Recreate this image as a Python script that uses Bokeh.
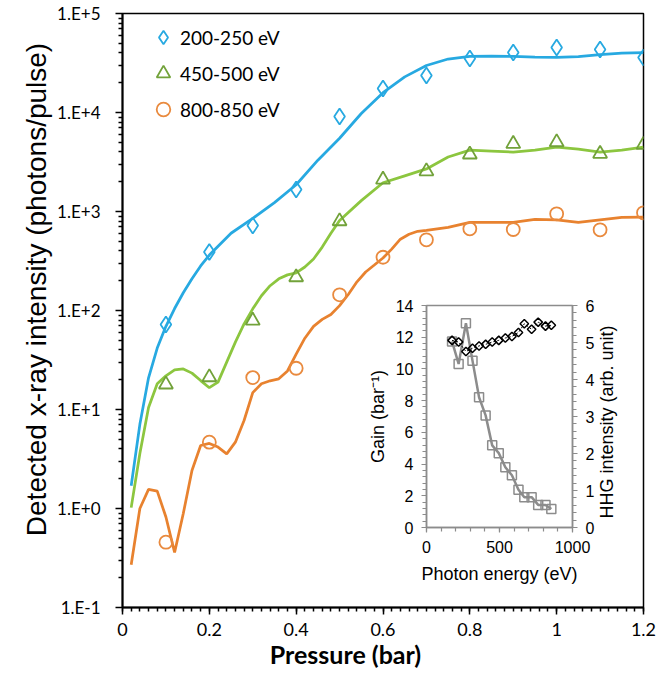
import math
import numpy as np
from bokeh.plotting import figure
from bokeh.models import (FixedTicker, LinearAxis, Range1d, Legend, LegendItem)
from bokeh.embed import file_html
from bokeh.resources import INLINE

# ---------------- main chart data ----------------
pressure_pts = [0.1, 0.2, 0.3, 0.4, 0.5, 0.6, 0.7, 0.8, 0.9, 1.0, 1.1, 1.2]
meas_200_250 = [72, 390, 720, 1670, 9100, 17500, 23700, 35100, 40400, 45400, 43300, 35900]
meas_450_500 = [17.9, 21.2, 79, 217, 798, 2100, 2550, 3770, 4830, 5010, 3830, 4710]
meas_800_850 = [0.457, 4.68, 21, 26.1, 144, 345, 518, 668, 658, 948, 653, 970]

curve_x_200 = [0.02, 0.04, 0.06, 0.08, 0.10, 0.12, 0.14, 0.16, 0.18, 0.20, 0.25, 0.30, 0.35,
               0.40, 0.45, 0.50, 0.55, 0.60, 0.65, 0.70, 0.75, 0.80, 0.85, 0.90, 0.95, 1.00,
               1.05, 1.10, 1.15, 1.20]
curve_200_250 = [1.70, 7.08, 20.9, 41.7, 69.2, 104.7, 151, 209, 282, 363, 603, 851, 1230,
                 1862, 3300, 5495, 9772, 15849, 22909, 29854, 34674, 36813, 37154, 36813,
                 36308, 35975, 36728, 38459, 39811, 40365]

curve_x_450 = [0.02, 0.04, 0.06, 0.08, 0.10, 0.12, 0.14, 0.16, 0.18, 0.20, 0.22, 0.24, 0.26,
               0.28, 0.30, 0.32, 0.34, 0.36, 0.38, 0.40, 0.42, 0.44, 0.46, 0.48, 0.50, 0.55,
               0.60, 0.65, 0.70, 0.75, 0.80, 0.85, 0.90, 0.95, 1.00, 1.05, 1.10, 1.15, 1.20]
curve_450_500 = [1.02, 3.60, 10.5, 18.2, 21.9, 25.1, 25.7, 23.3, 19.6, 16.6, 18.9, 30.1, 47.9,
                 73.3, 104, 141, 178, 209, 229, 240, 275, 331, 437, 603, 813, 1288,
                 1950, 2291, 2692, 3548, 4169, 4074, 3981, 4169, 4467, 4266, 3981, 4169, 4467]

curve_x_800 = [0.02, 0.04, 0.06, 0.08, 0.10, 0.12, 0.14, 0.16, 0.18, 0.20, 0.22, 0.24, 0.26,
               0.28, 0.30, 0.32, 0.34, 0.36, 0.38, 0.40, 0.42, 0.44, 0.46, 0.48, 0.50, 0.52,
               0.54, 0.56, 0.58, 0.60, 0.62, 0.64, 0.66, 0.68, 0.70, 0.75, 0.80, 0.85, 0.90,
               0.95, 1.00, 1.05, 1.10, 1.15, 1.20]
curve_800_850 = [0.27, 1.0, 1.56, 1.50, 0.82, 0.36, 0.89, 2.42, 4.33, 4.54, 4.17, 3.56, 4.68,
                 7.74, 14.8, 18.2, 19.5, 20.4, 24.5, 36.3, 52.5, 69.2, 81.3, 91.2, 112, 145,
                 195, 245, 288, 339, 417, 525, 589, 631, 646, 692, 776, 776, 776,
                 832, 822, 776, 822, 871, 877]

series_labels = ["200-250 eV", "450-500 eV", "800-850 eV"]

x_ticks = [0, 0.2, 0.4, 0.6, 0.8, 1.0, 1.2]
x_tick_labels = ["0", "0.2", "0.4", "0.6", "0.8", "1", "1.2"]
y_ticks = [0.1, 1, 10, 100, 1000, 10000, 100000]
y_tick_labels = ["1.E-1", "1.E+0", "1.E+1", "1.E+2", "1.E+3", "1.E+4", "1.E+5"]

# ---------------- inset data ----------------
photon_energy = [175, 220, 270, 315, 360, 405, 450, 495, 540, 585, 630, 670, 720, 765, 815, 855]
gain = [11.8, 11.7, 11.1, 11.3, 11.45, 11.55, 11.7, 11.8, 11.95, 12.05, 12.3, 12.85, 12.5,
        12.95, 12.7, 12.75]
hhg_intensity = [5.03, 4.42, 5.52, 4.51, 3.52, 3.03, 2.22, 2.01, 1.63, 1.41, 1.02, 0.82, 0.82,
                 0.61, 0.61, 0.50]

# ---------------- styles ----------------
BLUE = "#27A9E1"
GREEN_LINE = "#8CC63F"
GREEN_MK = "#72A23A"
ORANGE_LINE = "#E8822F"
ORANGE_MK = "#E98A3E"
GREY = "#8C8C8C"
MAIN_FONT = "Lato"
ARIAL = "Liberation Sans"

p = figure(width=656, height=675, y_axis_type="log",
           x_range=Range1d(0, 1.2), y_range=Range1d(0.1, 1e5),
           output_backend="svg", toolbar_location=None,
           min_border_left=122, min_border_right=13, min_border_top=13, min_border_bottom=68)
p.xgrid.visible = False
p.ygrid.visible = False
p.outline_line_color = "black"
p.outline_line_width = 1.5
p.background_fill_color = "white"
p.border_fill_color = "white"

p.xaxis.ticker = FixedTicker(ticks=x_ticks,
                             minor_ticks=[round(v, 2) for v in np.arange(0, 1.2001, 0.02)])
p.xaxis.major_label_overrides = {t: l for t, l in zip(x_ticks, x_tick_labels)}
p.yaxis.ticker = FixedTicker(ticks=y_ticks,
                             minor_ticks=[k * 10.0 ** e for e in range(-1, 5) for k in range(2, 10)])
p.yaxis.major_label_overrides = {t: l for t, l in zip(y_ticks, y_tick_labels)}
for ax in (p.xaxis[0], p.yaxis[0]):
    ax.axis_line_color = "black"
    ax.axis_line_width = 2
    ax.major_tick_line_color = "black"
    ax.minor_tick_line_color = "black"
    ax.major_tick_line_width = 1.5
    ax.minor_tick_line_width = 1.5
    ax.major_tick_in = 0
    ax.major_tick_out = 7
    ax.minor_tick_in = 0
    ax.minor_tick_out = 4
    ax.major_label_text_font = MAIN_FONT
    ax.major_label_text_color = "black"
p.yaxis.major_label_text_font_size = "17px"
p.xaxis.major_label_text_font_size = "18px"
p.yaxis.major_label_standoff = 15
p.xaxis.major_label_standoff = 8

# axis titles (padding spaces reproduce the off-centre placement of the original)
p.yaxis.axis_label = "\u2003\u2002Detected x-ray intensity (photons/pulse)"
p.yaxis.axis_label_text_font = ARIAL
p.yaxis.axis_label_text_font_size = "28px"
p.yaxis.axis_label_text_font_style = "normal"
p.yaxis.axis_label_standoff = 2
p.xaxis.axis_label = "Pressure (bar)\u2003\u2003\u2003\u2003"
p.xaxis.axis_label_text_font = MAIN_FONT
p.xaxis.axis_label_text_font_size = "25px"
p.xaxis.axis_label_text_font_style = "bold"
p.xaxis.axis_label_standoff = 0
for ax in (p.xaxis[0], p.yaxis[0]):
    ax.axis_label_text_color = "black"

# curves
p.line(curve_x_200, curve_200_250, line_color=BLUE, line_width=2.75)
p.line(curve_x_450, curve_450_500, line_color=GREEN_LINE, line_width=2.75)
p.line(curve_x_800, curve_800_850, line_color=ORANGE_LINE, line_width=2.75)

# measured points
r_b = p.scatter(pressure_pts, meas_200_250, marker="diamond", size=16,
                fill_color=None, line_color=BLUE, line_width=1.8)
r_g = p.scatter(pressure_pts, meas_450_500, marker="triangle", size=14,
                fill_color=None, line_color=GREEN_MK, line_width=1.8)
r_o = p.scatter(pressure_pts, meas_800_850, marker="circle", size=13,
                fill_color=None, line_color=ORANGE_MK, line_width=1.8)

legend = Legend(items=[LegendItem(label=series_labels[0], renderers=[r_b]),
                       LegendItem(label=series_labels[1], renderers=[r_g]),
                       LegendItem(label=series_labels[2], renderers=[r_o])],
                location=(24, 481), glyph_width=34, glyph_height=34, label_height=20,
                spacing=2, padding=0, margin=0, label_standoff=-8,
                border_line_color=None, background_fill_alpha=0,
                label_text_font=MAIN_FONT, label_text_font_size="19px",
                label_text_color="black")
p.add_layout(legend)

# ---------------- inset ----------------
ins = figure(width=280, height=300, x_range=Range1d(0, 1000), y_range=Range1d(0, 14),
             output_backend="svg", toolbar_location=None,
             min_border_left=66, min_border_right=68, min_border_top=11, min_border_bottom=67)
ins.extra_y_ranges = {"hhg": Range1d(0, 6)}
ax_r = LinearAxis(y_range_name="hhg")
ins.add_layout(ax_r, "right")
ins.xgrid.visible = False
ins.ygrid.visible = False
ins.outline_line_color = GREY
ins.outline_line_width = 1.5
ins.background_fill_alpha = 0
ins.border_fill_alpha = 0

ins.xaxis.ticker = FixedTicker(ticks=[0, 500, 1000], minor_ticks=list(range(0, 1001, 100)))
ins.yaxis[0].ticker = FixedTicker(ticks=list(range(0, 15, 2)),
                                  minor_ticks=[round(v, 2) for v in np.arange(0, 14.001, 0.4)])
ax_r.ticker = FixedTicker(ticks=list(range(0, 7)),
                          minor_ticks=[round(v, 2) for v in np.arange(0, 6.001, 0.2)])
for ax in (ins.xaxis[0], ins.yaxis[0], ax_r):
    ax.axis_line_color = GREY
    ax.axis_line_width = 1.5
    ax.major_tick_line_color = GREY
    ax.minor_tick_line_color = GREY
    ax.major_tick_line_width = 1.2
    ax.minor_tick_line_width = 1.2
    ax.major_tick_in = 0
    ax.major_tick_out = 5
    ax.minor_tick_in = 0
    ax.minor_tick_out = 4
    ax.major_label_text_font = ARIAL
    ax.major_label_text_font_size = "16px"
    ax.major_label_text_color = "black"
    ax.major_label_standoff = 8
ins.xaxis.axis_label = "Photon energy (eV)"
ins.xaxis.axis_label_standoff = 8
ins.yaxis[0].axis_label = "Gain (bar\u207b\u00b9)"
ins.yaxis[0].axis_label_standoff = 5
ax_r.axis_label = "\u2002HHG intensity (arb. unit)"
ax_r.axis_label_standoff = 10
ax_r.axis_label_orientation = math.pi / 2
ax_r.axis_label_align = "start"
for ax in (ins.xaxis[0], ins.yaxis[0], ax_r):
    ax.axis_label_text_font = ARIAL
    ax.axis_label_text_font_size = "18px"
    ax.axis_label_text_font_style = "normal"
    ax.axis_label_text_color = "black"

ins.line(photon_energy, hhg_intensity, y_range_name="hhg", line_color=GREY, line_width=2.5)
ins.scatter(photon_energy, hhg_intensity, y_range_name="hhg", marker="square", size=9,
            fill_color=None, line_color=GREY, line_width=1.5)
ins.line(photon_energy, gain, line_color="black", line_width=1, line_dash="2 2")
ins.scatter(photon_energy, gain, marker="square", angle=math.pi / 4, size=6,
            fill_color=None, line_color="black", line_width=1.5)

# place the inset over the main chart
ins.styles = {"position": "absolute", "left": "360px", "top": "294px"}

open("out.html", "w").write(file_html([p, ins], INLINE))
